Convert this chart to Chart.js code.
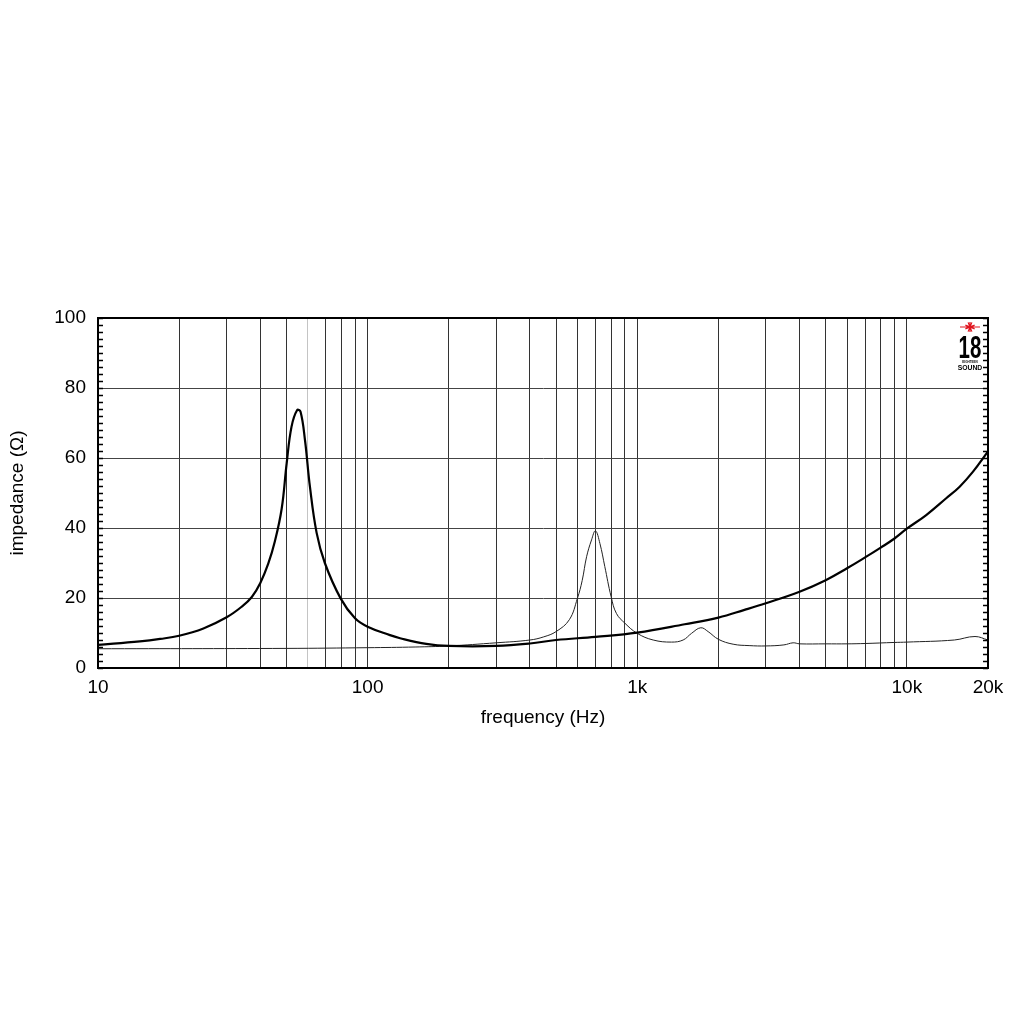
<!DOCTYPE html>
<html>
<head>
<meta charset="utf-8">
<title>Impedance</title>
<script src="https://cdn.jsdelivr.net/npm/chart.js@4"></script>
<style>
  html, body { margin: 0; padding: 0; background: #fff; }
  #wrap { width: 1024px; height: 1024px; }
</style>
</head>
<body>
<div id="wrap"><canvas id="chart"></canvas></div>
<script>
// thick curve (woofer impedance)
const freqA = [10, 14.3, 17, 20, 24.6, 30, 34.1, 37.2, 40, 42.8, 45.3, 48, 50.1, 52.2, 54.8, 56.4, 58.6, 61.1, 64.7, 69.4, 79.4, 89.8, 100, 121, 132, 165, 200, 300, 400, 500, 700, 1000, 1500, 2000, 2500, 3000, 4000, 5000, 6000, 7000, 8000, 9000, 10000, 11800, 14000, 15700, 17600, 20000];
const impA = [6.6, 7.6, 8.3, 9.2, 11.3, 14.5, 17.5, 20.3, 24.3, 29.8, 36.2, 45.5, 58.5, 68.9, 73.7, 73.2, 65, 51.8, 38.6, 30, 19.9, 14.2, 11.8, 9.4, 8.5, 6.9, 6.3, 6.3, 7.0, 8.0, 8.9, 10.1, 12.5, 14.4, 16.6, 18.5, 21.8, 25.1, 28.5, 31.6, 34.4, 37.0, 39.8, 43.7, 48.5, 51.8, 56.1, 61.9];

// thin curve
const freqB = [10, 50, 100, 150, 200, 300, 400, 450, 500, 560, 600, 625, 649, 677, 700, 727, 758, 800, 837, 900, 1000, 1146, 1340, 1480, 1590, 1721, 1832, 2000, 2268, 2600, 3000, 3500, 3786, 4000, 5000, 6000, 7000, 9000, 10000, 15000, 17900, 20000];
const impB = [5.5, 5.6, 5.8, 6.0, 6.3, 7.2, 8.0, 8.9, 10.4, 13.8, 19.9, 25, 31.8, 36.6, 39.2, 35.6, 29, 20.4, 15.6, 12.8, 9.9, 8.0, 7.4, 8.0, 9.9, 11.5, 10.4, 8.2, 6.8, 6.4, 6.3, 6.6, 7.2, 6.9, 6.9, 6.9, 7.0, 7.3, 7.4, 8.0, 9.0, 8.0];

const freqGrid = [10, 20, 30, 40, 50, 60, 70, 80, 90, 100, 200, 300, 400, 500, 600, 700, 800, 900, 1000, 2000, 3000, 4000, 5000, 6000, 7000, 8000, 9000, 10000, 20000];
const freqLabels = { 10: '10', 100: '100', 1000: '1k', 10000: '10k', 20000: '20k' };
const lightLines = [60];

const FONT = "'Liberation Sans', Arial, sans-serif";

function toPoints(xs, ys) {
    return xs.map((x, i) => ({ x: x, y: ys[i] }));
}

// frame, minor ticks on both sides, logo
const framePlugin = {
    id: 'frame',
    afterDatasetsDraw(chart) {
        const { ctx, chartArea: a, scales: { y } } = chart;
        ctx.save();
        ctx.strokeStyle = '#000';
        ctx.lineWidth = 1.5;
        for (let v = 0; v <= 100; v += 2) {
            const py = Math.round(y.getPixelForValue(v)) + 0.5;
            ctx.beginPath();
            ctx.moveTo(a.left, py); ctx.lineTo(a.left + 5, py);
            ctx.moveTo(a.right, py); ctx.lineTo(a.right - 5, py);
            ctx.stroke();
        }
        ctx.lineWidth = 2;
        ctx.strokeRect(a.left, a.top, a.right - a.left, a.bottom - a.top);

        // logo
        const lx = a.right - 18;
        const sy = a.top + 9;
        ctx.strokeStyle = '#e0141e';
        ctx.lineWidth = 1.2;
        ctx.beginPath();
        ctx.moveTo(lx - 10, sy); ctx.lineTo(lx + 10, sy);
        for (let k = 0; k < 4; k++) {
            const ang = k * Math.PI / 4 + Math.PI / 8;
            ctx.moveTo(lx - 5 * Math.cos(ang), sy - 5 * Math.sin(ang));
            ctx.lineTo(lx + 5 * Math.cos(ang), sy + 5 * Math.sin(ang));
        }
        ctx.moveTo(lx, sy - 5); ctx.lineTo(lx, sy + 5);
        ctx.stroke();

        ctx.fillStyle = '#000';
        ctx.textAlign = 'center';
        ctx.textBaseline = 'alphabetic';
        ctx.font = 'bold 32px ' + FONT;
        ctx.save();
        ctx.translate(lx, a.top + 40);
        ctx.scale(0.64, 1);
        ctx.fillText('18', 0, 0);
        ctx.restore();
        ctx.font = 'bold 3px ' + FONT;
        ctx.fillText('EIGHTEEN', lx, a.top + 45);
        ctx.save();
        ctx.translate(lx, a.top + 52);
        ctx.scale(0.85, 1);
        ctx.font = 'bold 8px ' + FONT;
        ctx.fillText('SOUND', 0, 0);
        ctx.restore();
        ctx.restore();
    }
};

new Chart(document.getElementById('chart').getContext('2d'), {
    type: 'scatter',
    data: {
        datasets: [
            {
                label: 'impedance',
                data: toPoints(freqA, impA),
                showLine: true,
                borderColor: '#000',
                borderWidth: 2.2,
                pointRadius: 0,
                tension: 0.4
            },
            {
                label: 'impedance 2',
                data: toPoints(freqB, impB),
                showLine: true,
                borderColor: '#222',
                borderWidth: 1,
                pointRadius: 0,
                tension: 0.4
            }
        ]
    },
    options: {
        responsive: true,
        maintainAspectRatio: false,
        animation: false,
        layout: { padding: { top: 318, right: 36, bottom: 295, left: 0 } },
        plugins: {
            legend: { display: false },
            tooltip: { enabled: false }
        },
        scales: {
            x: {
                type: 'logarithmic',
                min: 10,
                max: 20000,
                afterBuildTicks: scale => {
                    scale.ticks = freqGrid.map(v => ({ value: v }));
                },
                afterFit: scale => { scale.height = 61; },
                ticks: {
                    autoSkip: false,
                    maxRotation: 0,
                    padding: 8,
                    color: '#000',
                    font: { family: FONT, size: 19 },
                    callback: v => freqLabels[v] || ''
                },
                grid: {
                    drawTicks: false,
                    lineWidth: 1,
                    color: c => (c.tick && lightLines.includes(c.tick.value)) ? '#c4c4c4' : '#333'
                },
                border: { display: true, color: '#000', width: 2 },
                title: {
                    display: true,
                    text: 'frequency (Hz)',
                    color: '#000',
                    font: { family: FONT, size: 19 },
                    padding: { top: 0, bottom: 0 }
                }
            },
            y: {
                min: 0,
                max: 100,
                afterFit: scale => { scale.width = 98; },
                ticks: {
                    stepSize: 20,
                    padding: 12,
                    color: '#000',
                    font: { family: FONT, size: 19 }
                },
                grid: {
                    drawTicks: false,
                    lineWidth: 1,
                    color: '#444'
                },
                border: { display: true, color: '#000', width: 2 },
                title: {
                    display: true,
                    text: 'impedance (Ω)',
                    color: '#000',
                    font: { family: FONT, size: 19 },
                    padding: { top: 6, bottom: 0 }
                }
            }
        }
    },
    plugins: [framePlugin]
});
</script>
</body>
</html>
